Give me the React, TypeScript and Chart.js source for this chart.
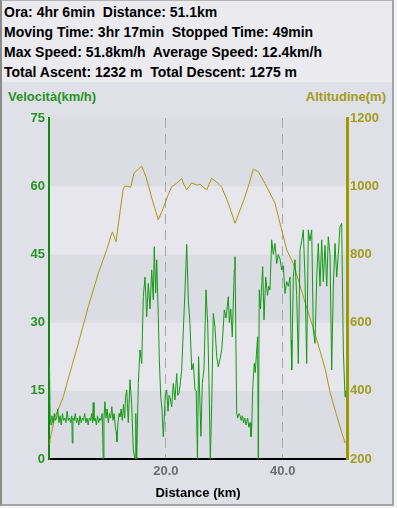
import React, { useEffect, useRef } from "react";
import { Chart, registerables } from "chart.js";

Chart.register(...registerables);

const headerLines = [
  "Ora: 4hr 6min  Distance: 51.1km",
  "Moving Time: 3hr 17min  Stopped Time: 49min",
  "Max Speed: 51.8km/h  Average Speed: 12.4km/h",
  "Total Ascent: 1232 m  Total Descent: 1275 m",
];
const speedTitle = "Velocità(km/h)";
const altitudeTitle = "Altitudine(m)";
const distanceTitle = "Distance (km)";

const speedTicks = [0, 15, 30, 45, 60, 75];
const altitudeTicks = [200, 400, 600, 800, 1000, 1200];
const distanceTicks = [20, 40];
const distanceMax = 51;

const altitudeKm = [
  0, 0.17, 1.03, 1.88, 2.45, 3.88, 5.02, 6.73, 8.44, 9.87, 10.73, 10.85, 11.47, 12.2, 12.72, 13.0,
  13.4, 13.98, 14.55, 15.29, 15.86, 16.6, 17.6, 18.71, 19.3, 19.85, 20.4, 21.0, 21.85, 22.71, 23.1,
  23.57, 24.42, 25.28, 25.85, 26.4, 26.99, 27.85, 28.7, 29.56, 30.7, 31.83, 32.7, 33.54, 34.3, 34.97,
  35.82, 36.97, 37.8, 38.68, 39.7, 40.68, 41.8, 42.9, 44.0, 45.2, 46.3, 47.3, 48.1, 49.2, 50.2, 50.66, 51.0,
];
const altitudeM = [
  245, 256, 324, 358, 383, 471, 539, 647, 745, 813, 862, 866, 837, 930, 994, 1000,
  1000, 997, 1038, 1050, 1059, 1028, 965, 901, 925, 950, 975, 999, 1008, 1023, 1005,
  989, 1010, 1003, 1006, 997, 989, 1023, 1012, 997, 950, 891, 930, 969, 1010, 1050,
  1043, 1008, 980, 950, 880, 813, 774, 712, 650, 585, 522, 462, 395, 330, 272, 248, 255,
];

const speedKm = [
  0, 0.08, 0.2, 0.35, 0.5, 0.7, 0.9, 1.1, 1.3, 1.5, 1.7, 1.9, 2.1, 2.3, 2.5, 2.7, 2.9, 3.1, 3.3, 3.5,
  3.7, 3.9, 3.98, 4.1, 4.3, 4.5, 4.7, 4.9, 5.1, 5.3, 5.5, 5.7, 5.9, 6.1, 6.3, 6.5, 6.7, 6.9, 7.1, 7.3,
  7.45, 7.57, 7.7, 7.9, 8.1, 8.3, 8.5, 8.7, 8.9, 9.1, 9.28, 9.4, 9.57, 9.75, 9.95, 10.15, 10.35, 10.55,
  10.75, 10.95, 11.15, 11.35, 11.5, 11.62, 11.8, 12.0, 12.15, 12.35, 12.55, 12.75, 12.95, 13.1,
  13.3, 13.57, 13.86, 14.15, 14.43, 14.72, 14.85, 15.01, 15.28, 15.57, 15.87, 16.14, 16.43, 16.72,
  16.99, 17.29, 17.58, 17.85, 18.02, 18.26, 18.43, 18.71, 18.88, 19.12, 19.34, 19.56, 19.73, 19.9,
  20.14, 20.37, 20.55, 20.71, 21.0, 21.27, 21.56, 21.85, 22.05, 22.25, 22.5, 22.71, 22.99, 23.28,
  23.57, 23.84, 24.13, 24.42, 24.7, 24.99, 25.2, 25.4, 25.6, 25.84, 26.0, 26.24, 26.53, 26.87, 27.16,
  27.38, 27.61, 27.85, 28.12, 28.41, 28.7, 28.97, 29.27, 29.56, 29.78, 30.0, 30.29, 30.69, 30.86,
  31.1, 31.37, 31.71, 31.83, 32.12, 32.3, 32.5, 32.7, 32.9, 33.1, 33.3, 33.5, 33.7, 33.84, 34.0,
  34.2, 34.4, 34.57, 34.7, 34.85, 35.0, 35.14, 35.3, 35.5, 35.7, 35.82, 35.99, 36.2, 36.57, 36.8,
  37.09, 37.4, 37.6, 37.82, 38.11, 38.39, 38.68, 38.97, 39.24, 39.53, 39.83, 40.1, 40.39, 40.68,
  40.96, 41.25, 41.42, 41.54, 41.81, 42.1, 42.39, 42.67, 42.96, 43.25, 43.52, 43.81, 44.1, 44.38,
  44.67, 44.96, 45.23, 45.52, 45.82, 46.09, 46.38, 46.67, 46.94, 47.24, 47.53, 47.8, 48.09, 48.38,
  48.66, 48.95, 49.24, 49.51, 49.8, 50.09, 50.37, 50.49, 50.66, 50.8,
];
const speedKmh = [
  17, 20.3, 9, 7.5, 9.5, 8, 10, 8.5, 9, 11, 8, 9.5, 7.5, 10, 8.5, 9, 8, 10.5, 8.5, 9,
  8, 9.5, 3.5, 9, 8.5, 10, 8, 9, 7.5, 9.5, 8, 9, 8.5, 10, 8, 9, 7.5, 9, 8.5, 10,
  8, 12.4, 8.5, 9, 7.5, 9.5, 8, 9, 8.5, 10, 0, 9, 12.6, 9, 11, 8, 10, 9,
  11.5, 8.5, 10, 7, 6, 3.8, 8, 10, 9.3, 11, 8.5, 12, 9, 13.5,
  15.2, 8, 17.4, 12, 2, 0, 10, 0, 16.6, 24, 21, 35.7, 40, 31.3,
  38.6, 33, 41.6, 35, 46.7, 36.5, 43.8, 31.3, 21.8, 13.7, 11, 4.9, 9, 14,
  15.2, 10.5, 14, 13.5, 11.5, 16.6, 13, 18.8, 14, 14.5, 17, 19.6, 28.4, 37.2,
  47.2, 35, 29.8, 19.6, 21, 15.2, 15, 0, 22.5, 12, 5, 16.6, 20, 37.2, 29.8,
  16.6, 0, 12.2, 32, 29, 22.5, 20.3, 22, 24, 28, 32.8, 31, 35.7, 30,
  33, 26.9, 41.6, 44.5, 10, 9, 10, 9.5, 8.5, 9.5, 8, 9, 7.5, 8.2, 9,
  7, 8, 4.9, 7, 15, 18.5, 21, 19, 23, 26.9, 0, 37.2, 33, 42.3, 30.6,
  40, 36, 38, 37.2, 48.2, 45, 47.4, 43, 45, 44, 41.6, 42.5, 36.4, 39,
  38, 40, 26.2, 19.6, 40, 43.8, 36, 21, 46, 48, 50.4, 40, 21, 50.4,
  48, 50.4, 28.4, 25.4, 40, 47.4, 38, 48.2, 39, 47, 38, 48.9, 45, 19.6,
  38, 47.4, 40, 45, 51.1, 51.8, 24, 19.6, 13.7, 15,
];

const FONT = "'Liberation Sans', Arial, sans-serif";
const GREEN_LINE = "#149a14";
const GREEN_AXIS = "#0c8c0c";
const GREEN_TEXT = "#259525";
const OLIVE_LINE = "#a69c0c";
const OLIVE_AXIS = "#a09800";
const OLIVE_TEXT = "#a09c1c";
const BAND_DARK = "#dcdce4";
const BAND_LIGHT = "#e6e6ec";

const bandPlugin = {
  id: "speedBands",
  beforeDraw(chart: any) {
    const { ctx, chartArea } = chart;
    const y = chart.scales.y;
    ctx.save();
    for (let i = 0; i < speedTicks.length - 1; i++) {
      const top = y.getPixelForValue(speedTicks[i + 1]);
      const bottom = y.getPixelForValue(speedTicks[i]);
      ctx.fillStyle = i % 2 === 0 ? BAND_DARK : BAND_LIGHT;
      ctx.fillRect(chartArea.left, top, chartArea.right - chartArea.left, bottom - top);
    }
    ctx.restore();
  },
};

export default function App() {
  const canvasRef = useRef<HTMLCanvasElement>(null);

  useEffect(() => {
    const canvas = canvasRef.current;
    if (!canvas) return;
    const speedData = speedKm.map((x, i) => ({ x, y: speedKmh[i] }));
    const altitudeData = altitudeKm.map((x, i) => ({ x, y: altitudeM[i] }));
    const chart = new Chart(canvas, {
      type: "line",
      data: {
        datasets: [
          {
            label: speedTitle,
            data: speedData,
            yAxisID: "y",
            borderColor: GREEN_LINE,
            borderWidth: 1,
            pointRadius: 0,
            tension: 0,
            fill: false,
          },
          {
            label: altitudeTitle,
            data: altitudeData,
            yAxisID: "y1",
            borderColor: OLIVE_LINE,
            borderWidth: 1,
            pointRadius: 0,
            tension: 0,
            fill: false,
          },
        ],
      },
      options: {
        animation: false,
        responsive: false,
        events: [],
        layout: { padding: { top: 34, left: 0, right: 0, bottom: 0 } },
        plugins: {
          legend: { display: false },
          tooltip: { enabled: false },
          title: { display: false },
        },
        scales: {
          x: {
            type: "linear",
            min: 0,
            max: distanceMax,
            afterBuildTicks: (s: any) => {
              s.ticks = distanceTicks.map((v) => ({ value: v }));
            },
            afterFit: (s: any) => {
              s.height = 46;
            },
            grid: { display: true, drawTicks: false, color: "#a6a6ae", lineWidth: 1 },
            border: { display: true, color: "#000000", width: 2, dash: [10, 6] },
            ticks: {
              color: "#6c6c74",
              font: { family: FONT, size: 13, weight: "bold" },
              padding: 5,
              autoSkip: false,
              maxRotation: 0,
              callback: (v: any) => Number(v).toFixed(1),
            },
            title: {
              display: true,
              text: distanceTitle,
              color: "#000000",
              font: { family: FONT, size: 13, weight: "bold" },
              padding: { top: 4, bottom: 4 },
            },
          },
          y: {
            type: "linear",
            position: "left",
            min: 0,
            max: 75,
            afterBuildTicks: (s: any) => {
              s.ticks = speedTicks.map((v) => ({ value: v }));
            },
            afterFit: (s: any) => {
              s.width = 49;
            },
            grid: { display: false, drawTicks: false },
            border: { display: true, color: GREEN_AXIS, width: 2 },
            ticks: {
              color: GREEN_TEXT,
              font: { family: FONT, size: 13, weight: "bold" },
              padding: 4,
              callback: (v: any) => String(v),
            },
          },
          y1: {
            type: "linear",
            position: "right",
            min: 200,
            max: 1200,
            afterBuildTicks: (s: any) => {
              s.ticks = altitudeTicks.map((v) => ({ value: v }));
            },
            afterFit: (s: any) => {
              s.width = 46;
            },
            grid: { display: false, drawTicks: false },
            border: { display: true, color: OLIVE_AXIS, width: 3 },
            ticks: {
              color: OLIVE_TEXT,
              font: { family: FONT, size: 13, weight: "bold" },
              padding: 3,
              callback: (v: any) => String(v),
            },
          },
        },
      },
      plugins: [bandPlugin],
    } as any);
    return () => chart.destroy();
  }, []);

  return (
    <div
      style={{
        position: "fixed",
        left: 0,
        top: 0,
        width: 397,
        height: 508,
        background: "#f4f4f4",
        overflow: "hidden",
        fontFamily: FONT,
      }}
    >
      <div
        style={{
          position: "absolute",
          left: 0,
          top: 0,
          width: 394,
          height: 506,
          boxSizing: "border-box",
          borderLeft: "2px solid #8c8c8c",
          borderRight: "2px solid #a4a4a4",
          borderBottom: "2px solid #a4a4a4",
          borderTop: "1px solid #b4b4b4",
          background: "#e0e0e8",
        }}
      />
      <div
        style={{
          position: "absolute",
          left: 2,
          top: 1,
          width: 390,
          height: 81,
          background: "#ebebef",
        }}
      />
      <div
        style={{
          position: "absolute",
          left: 4,
          top: 2,
          fontSize: 14,
          fontWeight: "bold",
          lineHeight: "20px",
          color: "#000",
          whiteSpace: "pre",
        }}
      >
        {headerLines.map((t, i) => (
          <div key={i}>{t}</div>
        ))}
      </div>
      <div
        style={{
          position: "absolute",
          left: 8,
          top: 89,
          fontSize: 13,
          fontWeight: "bold",
          lineHeight: "16px",
          color: GREEN_TEXT,
          whiteSpace: "pre",
        }}
      >
        {speedTitle}
      </div>
      <div
        style={{
          position: "absolute",
          right: 11,
          top: 89,
          fontSize: 13,
          fontWeight: "bold",
          lineHeight: "16px",
          color: OLIVE_TEXT,
          whiteSpace: "pre",
        }}
      >
        {altitudeTitle}
      </div>
      <canvas
        ref={canvasRef}
        width={393}
        height={421}
        style={{ position: "absolute", left: 0, top: 84, width: 393, height: 421 }}
      />
    </div>
  );
}
